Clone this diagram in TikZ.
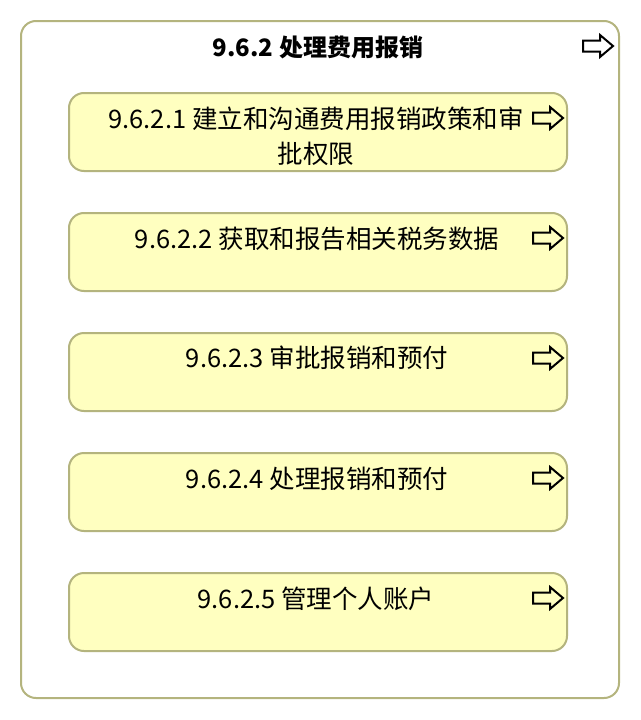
\documentclass[tikz,border=0pt]{standalone}
\usepackage{fontspec}
\setmainfont{Noto Sans CJK SC}
\definecolor{boxline}{RGB}{180,180,126}
\definecolor{boxfill}{RGB}{255,255,192}
\tikzset{
  outerbox/.style={draw=boxline, line width=2pt, rounded corners=15pt, fill=white},
  subbox/.style={draw=boxline, line width=2pt, rounded corners=15pt, fill=boxfill,
    minimum width=498pt, minimum height=78pt, inner sep=0pt},
  lbl/.style={font=\fontsize{25.5}{35}\selectfont, align=center, inner sep=0pt},
  ttl/.style={font=\bfseries\fontsize{24}{30}\selectfont, inner sep=0pt},
  arrowicon/.pic={
    \draw[line width=2pt, line join=miter, black]
      (-30,-5.5) -- (-13,-5.5) -- (-13,-11) -- (0,0) -- (-13,11) -- (-13,5.5) -- (-30,5.5) -- cycle;
  }
}
\begin{document}
\begin{tikzpicture}[x=1pt, y={(0pt,-1pt)}]
  \useasboundingbox (0,0) rectangle (640,720);
  \node[outerbox, minimum width=598pt, minimum height=677pt, inner sep=0pt] (outer) at (320,359.5) {};
  \node[ttl, anchor=base] (title) at (318,56) {9.6.2 处理费用报销};
  \pic at ([shift={(-7,26)}]outer.north east) {arrowicon};

  \node[subbox] (b1) at (318,132) {};
  \node[subbox] (b2) at (318,252) {};
  \node[subbox] (b3) at (318,372) {};
  \node[subbox] (b4) at (318,492) {};
  \node[subbox] (b5) at (318,612) {};

  \node[lbl, anchor=base] (t1) at ([shift={(-2,71.5)}]b1.north) {9.6.2.1 建立和沟通费用报销政策和审\\批权限};
  \node[lbl, anchor=base] (t2) at ([shift={(-1,36.5)}]b2.north) {9.6.2.2 获取和报告相关税务数据};
  \node[lbl, anchor=base] (t3) at ([shift={(-1,35)}]b3.north) {9.6.2.3 审批报销和预付};
  \node[lbl, anchor=base] (t4) at ([shift={(-1,36.5)}]b4.north) {9.6.2.4 处理报销和预付};
  \node[lbl, anchor=base] (t5) at ([shift={(-2,36.5)}]b5.north) {9.6.2.5 管理个人账户};

  \foreach \b in {b1,b2,b3,b4,b5}
    \pic at ([shift={(-5,26)}]\b.north east) {arrowicon};
\end{tikzpicture}
\end{document}
